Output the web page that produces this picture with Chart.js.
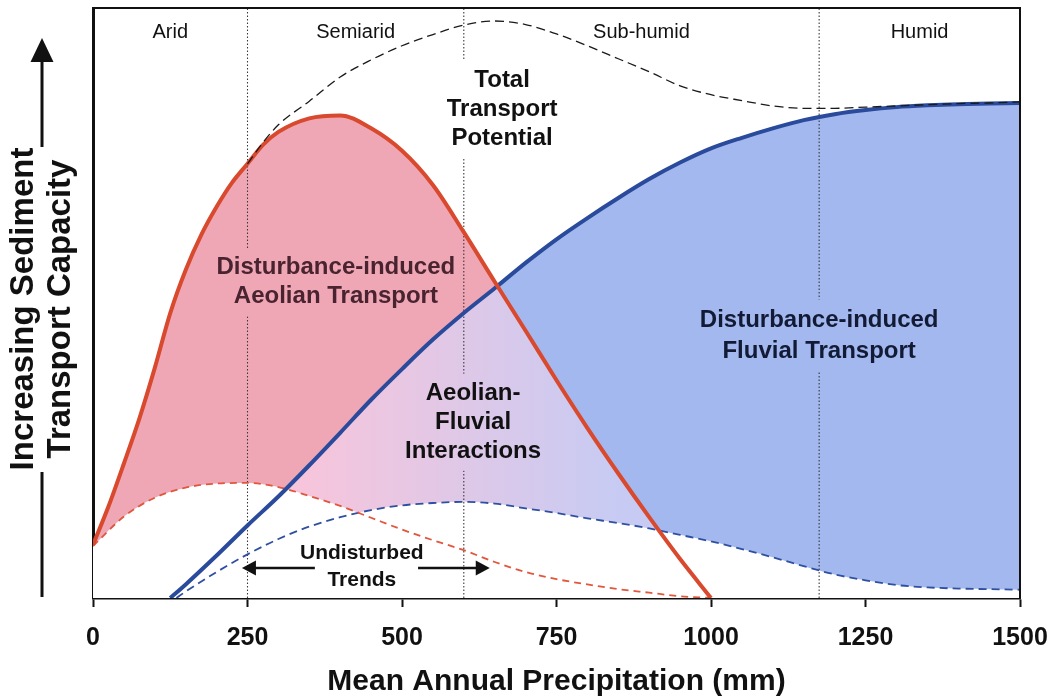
<!DOCTYPE html>
<html>
<head>
<meta charset="utf-8">
<script src="https://cdn.jsdelivr.net/npm/chart.js@4.4.0/dist/chart.umd.min.js"></script>
<style>
html,body{margin:0;padding:0;background:#fff;}
#wrap{width:1050px;height:700px;position:relative;}
</style>
</head>
<body>
<div id="wrap"><canvas id="c" width="1050" height="700"></canvas></div>
<script>
// ---- data ----
const xTicks = [0, 250, 500, 750, 1000, 1250, 1500];
const zoneBounds = [0, 250, 600, 1175, 1500];
const zoneNames = ['Arid', 'Semiarid', 'Sub-humid', 'Humid'];

const aeolianDistX = [0,25,50,75,100,125,150,175,200,225,250,275,300,350,400,450,500,550,600,650,700,750,800,850,900,950,1000];
const aeolianDist  = [9,15.5,22.8,30.4,39,48.3,55.6,61.5,66.3,70.4,73.6,76.8,79,81.3,81.8,79.6,75.8,70,62,53.6,45.3,36.9,28.8,21.1,13.7,6.6,0];

const fluvialDistX = [125,150,200,250,300,350,400,450,500,550,600,650,700,750,800,850,900,950,1000,1050,1100,1150,1200,1250,1300,1350,1400,1450,1500];
const fluvialDist  = [0,2.3,7.2,12.3,17.2,22.5,28,33.6,38.8,43.8,48.3,52.5,56.8,60.8,64.4,67.8,71,73.8,76.2,78,79.6,81,82,82.7,83.2,83.5,83.7,83.8,83.9];

const totalX = [250,275,300,350,400,450,500,550,600,650,700,750,800,850,900,950,1000,1050,1100,1150,1200,1250,1300,1350,1400,1450,1500];
const total  = [73.6,77.2,80.2,84.2,88.3,91.2,93.6,95.5,97.1,97.8,97.2,95.6,93.6,91.4,89.2,86.8,85.3,84.3,83.4,83.0,83.0,83.2,83.4,83.6,83.8,83.9,84.1];

const aeolianUndX = [0,50,100,150,200,250,300,350,400,450,500,550,600,650,700,750,800,850,900,950,1000];
const aeolianUnd  = [8.8,13.8,17,18.7,19.4,19.5,18.8,17.3,15.6,13.6,11.6,9.8,8.1,6.1,4.4,3.2,2.3,1.5,0.9,0.3,0];

const fluvialUndX = [135,150,200,250,300,350,400,450,500,550,600,650,700,750,800,850,900,950,1000,1050,1100,1150,1200,1250,1300,1350,1400,1450,1500];
const fluvialUnd  = [0,1.1,4.4,7.4,10,12.1,13.7,14.9,15.7,16.1,16.3,16,15.2,14.4,13.5,12.7,11.8,10.7,9.6,8.3,6.9,5.4,4,3,2.2,1.8,1.6,1.5,1.4];

// ---- styling ----
const FONT = '"Liberation Sans", Arial, Helvetica, sans-serif';
const PINK = '#EFA7B5';
const BLUE = '#A3B8EE';
const RED_LINE = '#D8492E';
const BLUE_LINE = '#2A4A9C';

const pts = (xs, ys) => xs.map((x, i) => ({x: x, y: ys[i]}));
const Y_MIN = 0, Y_MAX = 100;

function interGrad(chart) {
  const {ctx, chartArea, scales} = chart;
  if (!chartArea || !scales.x) return '#E4C8E8';
  const x0 = scales.x.getPixelForValue(350), x1 = scales.x.getPixelForValue(850);
  const g = ctx.createLinearGradient(x0, 0, x1, 0);
  g.addColorStop(0, '#F6C5DC');
  g.addColorStop(1, '#C7CBF3');
  return g;
}

// fill helpers (extended with zeros outside the curve's range)
const redEnv  = pts(aeolianDistX, aeolianDist).concat([{x: 1500, y: 0}]);
const blueEnv = [{x: 0, y: 0}].concat(pts(fluvialDistX, fluvialDist));

const base = {pointRadius: 0, pointHoverRadius: 0, cubicInterpolationMode: 'monotone', fill: false};
const helper = Object.assign({}, base, {borderWidth: 0, borderColor: 'rgba(0,0,0,0)'});

const boundaryDatasets = zoneBounds.slice(1, -1).map(b => Object.assign({}, base, {
  label: 'boundary ' + b,
  data: [{x: b, y: Y_MIN}, {x: b, y: Y_MAX}],
  borderColor: '#3a3a3a', borderWidth: 1.1, borderDash: [1.5, 2], cubicInterpolationMode: 'default', tension: 0
}));

const datasets = [
  Object.assign({}, base, {label: 'Total Transport Potential', data: pts(totalX, total),
    borderColor: '#1a1a1a', borderWidth: 1.3, borderDash: [9, 5]}),
  Object.assign({}, base, {label: 'Disturbance-induced Aeolian Transport', data: pts(aeolianDistX, aeolianDist),
    borderColor: RED_LINE, borderWidth: 4}),
  Object.assign({}, base, {label: 'Disturbance-induced Fluvial Transport', data: pts(fluvialDistX, fluvialDist),
    borderColor: BLUE_LINE, borderWidth: 4}),
  Object.assign({}, base, {label: 'Undisturbed Aeolian', data: pts(aeolianUndX, aeolianUnd),
    borderColor: '#E0573E', borderWidth: 1.8, borderDash: [7, 5]}),
  Object.assign({}, base, {label: 'Undisturbed Fluvial', data: pts(fluvialUndX, fluvialUnd),
    borderColor: '#2F50A2', borderWidth: 1.8, borderDash: [8, 5]}),
  ...boundaryDatasets
];
datasets.push(Object.assign({}, helper, {label: '_wf', data: pts(fluvialUndX, fluvialUnd), fill: 'origin', backgroundColor: '#ffffff'}));
datasets.push(Object.assign({}, helper, {label: '_wa', data: pts(aeolianUndX, aeolianUnd), fill: 'origin', backgroundColor: '#ffffff'}));
const iBand = datasets.length;
const iBlueEnv = iBand + 1;
datasets.push(Object.assign({}, helper, {label: '_band', data: redEnv, fill: {target: iBlueEnv, above: PINK, below: BLUE}}));
datasets.push(Object.assign({}, helper, {label: '_benv', data: blueEnv}));
datasets.push(Object.assign({}, helper, {label: '_inter', data: redEnv, fill: 'origin',
  backgroundColor: c => interGrad(c.chart)}));

// ---- annotations (text) ----
const textBlocks = [
  {lines: ['Disturbance-induced', 'Aeolian Transport'], x: 393, y: 53.5, size: 24, lh: 29, color: '#4a2330', bg: 'pink'},
  {lines: ['Total', 'Transport', 'Potential'], x: 662, y: 82.9, size: 24, lh: 29, color: '#111', bg: 'white'},
  {lines: ['Aeolian-', 'Fluvial', 'Interactions'], x: 615, y: 29.8, size: 24, lh: 29, color: '#111', bg: 'grad'},
  {lines: ['Disturbance-induced', 'Fluvial Transport'], x: 1175, y: 44.5, size: 24, lh: 31, color: '#121a36', bg: 'blue'},
  {lines: ['Undisturbed', 'Trends'], x: 435, y: 5.3, size: 21, lh: 27, color: '#111', bg: null}
];
const trendArrows = [{from: 359, to: 241, y: 5.1}, {from: 526, to: 642, y: 5.1}];

function arrowHead(ctx, tx, ty, dir, len, half) {
  ctx.beginPath();
  ctx.moveTo(tx, ty);
  ctx.lineTo(tx - dir * len, ty - half);
  ctx.lineTo(tx - dir * len, ty + half);
  ctx.closePath();
  ctx.fill();
}

const decor = {
  id: 'decor',
  afterDatasetsDraw(chart) {
    const {ctx, chartArea: a, scales: {x, y}} = chart;
    ctx.save();
    // frame top/right
    ctx.strokeStyle = '#111';
    ctx.lineWidth = 2;
    ctx.beginPath();
    ctx.moveTo(a.left, a.top);
    ctx.lineTo(a.right, a.top);
    ctx.lineTo(a.right, a.bottom);
    ctx.stroke();
    // zone labels
    ctx.font = '20px ' + FONT;
    ctx.fillStyle = '#111';
    ctx.textAlign = 'center';
    ctx.textBaseline = 'middle';
    for (let i = 0; i < zoneNames.length; i++) {
      const mid = (zoneBounds[i] + zoneBounds[i + 1]) / 2;
      ctx.fillText(zoneNames[i], x.getPixelForValue(mid), a.top + 24);
    }
    // text blocks
    const bgs = {pink: PINK, white: '#ffffff', blue: BLUE, grad: interGrad(chart)};
    for (const b of textBlocks) {
      ctx.font = 'bold ' + b.size + 'px ' + FONT;
      const cx = x.getPixelForValue(b.x), cy = y.getPixelForValue(b.y);
      const h = b.lines.length * b.lh, top = cy - h / 2;
      const w = Math.max(...b.lines.map(l => ctx.measureText(l).width));
      if (b.bg) {
        for (const zb of zoneBounds.slice(1, -1)) {
          const px = x.getPixelForValue(zb);
          if (px > cx - w / 2 && px < cx + w / 2) {
            ctx.fillStyle = bgs[b.bg];
            ctx.fillRect(px - 2, top - 5, 4, h + 10);
          }
        }
      }
      ctx.fillStyle = b.color;
      ctx.textAlign = 'center';
      ctx.textBaseline = 'middle';
      b.lines.forEach((l, i) => ctx.fillText(l, cx, top + b.lh * (i + 0.5)));
    }
    // undisturbed trend arrows
    ctx.strokeStyle = '#111';
    ctx.fillStyle = '#111';
    ctx.lineWidth = 2.5;
    for (const ar of trendArrows) {
      const x0 = x.getPixelForValue(ar.from), x1 = x.getPixelForValue(ar.to), yy = y.getPixelForValue(ar.y);
      const dir = x1 > x0 ? 1 : -1;
      ctx.beginPath();
      ctx.moveTo(x0, yy);
      ctx.lineTo(x1 - dir * 10, yy);
      ctx.stroke();
      arrowHead(ctx, x1, yy, dir, 14, 7.5);
    }
    ctx.restore();
  },
  afterDraw(chart) {
    const {ctx} = chart;
    ctx.save();
    ctx.fillStyle = '#111';
    ctx.strokeStyle = '#111';
    ctx.font = 'bold 33px ' + FONT;
    ctx.textAlign = 'center';
    ctx.textBaseline = 'middle';
    const lines = ['Increasing Sediment', 'Transport Capacity'];
    const xs = [24, 61];
    lines.forEach((l, i) => {
      ctx.save();
      ctx.translate(xs[i], 309);
      ctx.rotate(-Math.PI / 2);
      ctx.fillText(l, 0, 0);
      ctx.restore();
    });
    // axis arrow
    ctx.lineWidth = 3;
    ctx.beginPath();
    ctx.moveTo(42, 58); ctx.lineTo(42, 147);
    ctx.moveTo(42, 472); ctx.lineTo(42, 597);
    ctx.stroke();
    ctx.beginPath();
    ctx.moveTo(42, 38); ctx.lineTo(30.5, 62); ctx.lineTo(53.5, 62); ctx.closePath();
    ctx.fill();
    ctx.restore();
  }
};

new Chart(document.getElementById('c'), {
  type: 'line',
  data: {datasets: datasets},
  options: {
    responsive: false,
    devicePixelRatio: 1,
    animation: false,
    events: [],
    layout: {padding: {top: 8, right: 30, left: 0, bottom: 0}},
    plugins: {
      legend: {display: false},
      tooltip: {enabled: false},
      filler: {drawTime: 'beforeDatasetsDraw', propagate: false}
    },
    scales: {
      x: {
        type: 'linear', min: 0, max: 1500,
        afterBuildTicks: s => { s.ticks = xTicks.map(v => ({value: v})); },
        ticks: {font: {family: FONT, size: 25, weight: 'bold'}, color: '#111', padding: 16, maxRotation: 0, autoSkip: false,
          callback: v => String(v)},
        grid: {display: true, drawOnChartArea: false, drawTicks: true, tickLength: 9, tickWidth: 2, color: '#111'},
        border: {display: true, width: 2.5, color: '#111'},
        title: {display: true, text: 'Mean Annual Precipitation (mm)', font: {family: FONT, size: 30, weight: 'bold'}, color: '#111', padding: {top: 0, bottom: 0}},
        afterFit: s => { s.height = 102; s.paddingLeft = 0; s.paddingRight = 0; }
      },
      y: {
        type: 'linear', min: Y_MIN, max: Y_MAX,
        ticks: {display: false},
        grid: {display: false},
        border: {display: true, width: 3, color: '#111'},
        afterFit: s => { s.width = 93; s.paddingTop = 0; s.paddingBottom = 0; }
      }
    }
  },
  plugins: [decor]
});
</script>
</body>
</html>
